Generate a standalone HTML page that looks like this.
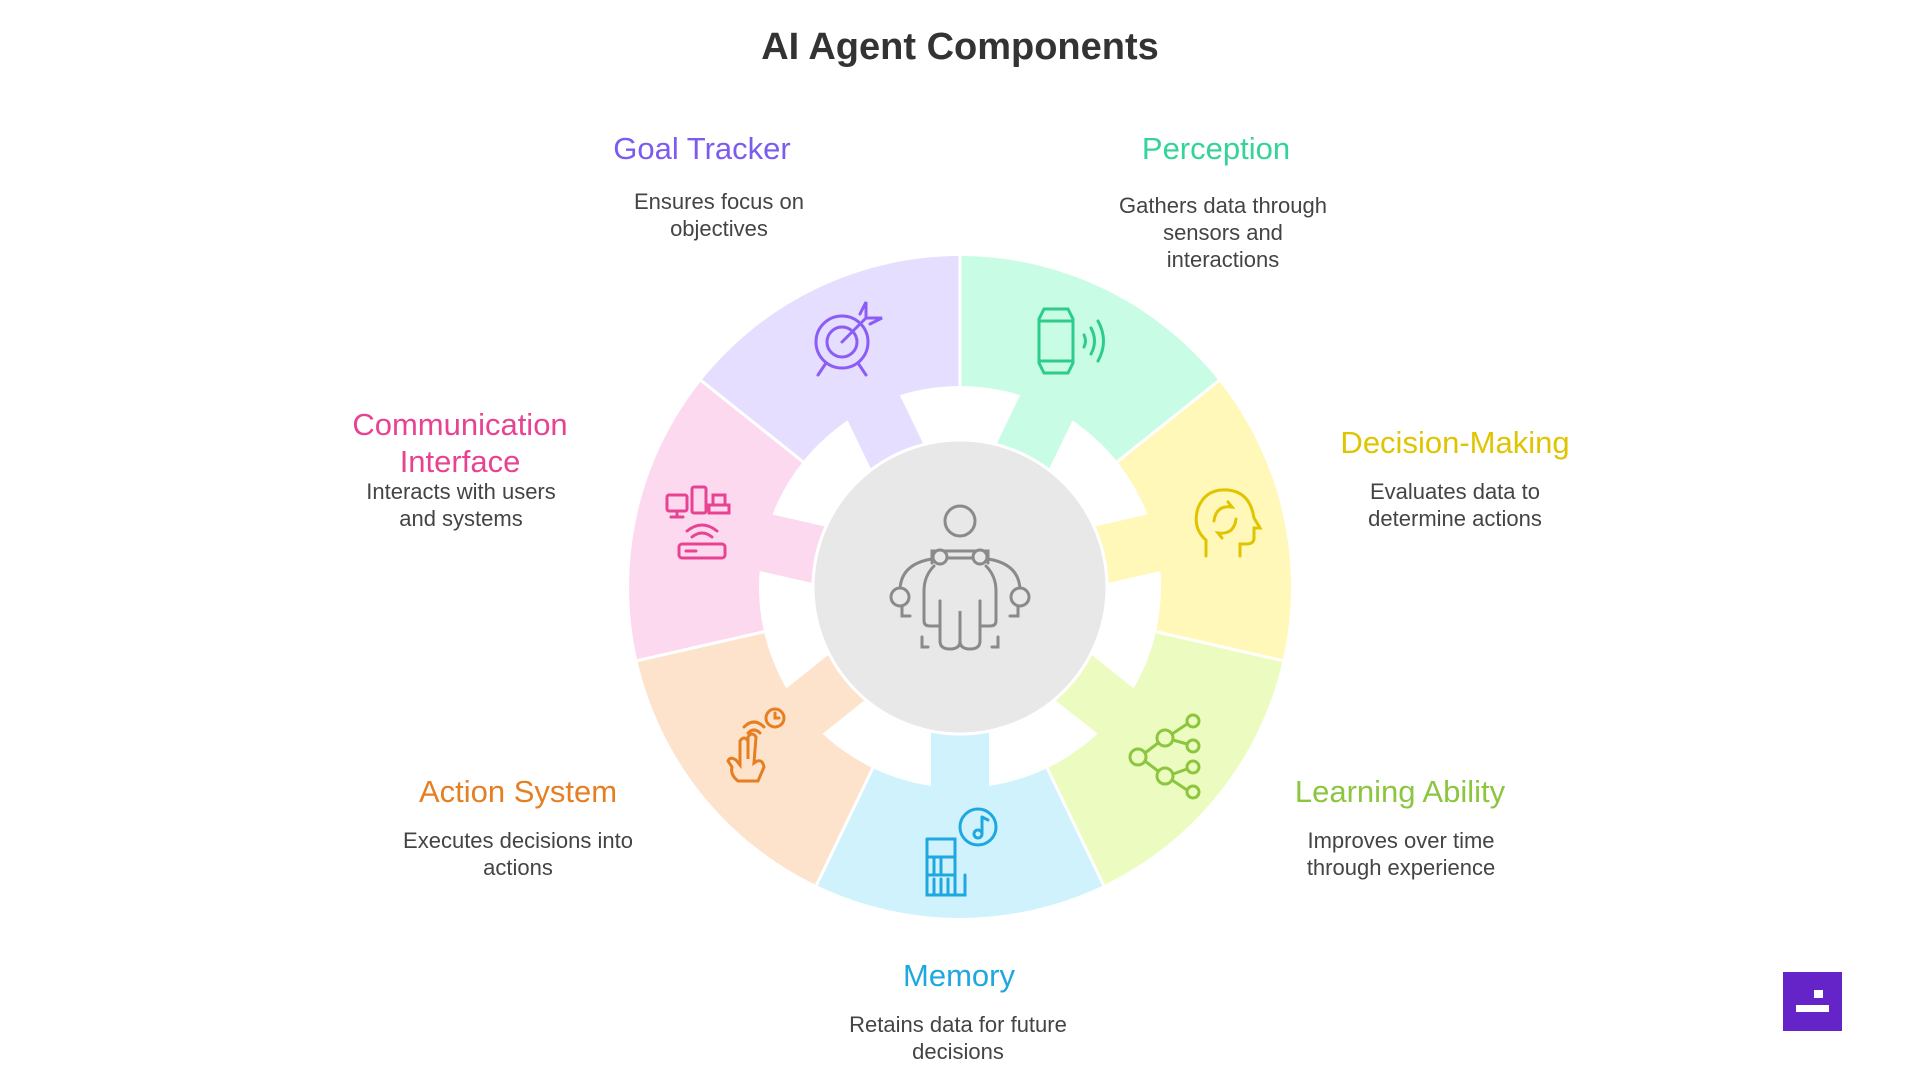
<!DOCTYPE html>
<html><head><meta charset="utf-8"><style>
html,body{margin:0;padding:0;background:#fff;}
body{width:1920px;height:1080px;position:relative;overflow:hidden;font-family:"Liberation Sans",sans-serif;}
.t{position:absolute;transform:translateX(-50%);text-align:center;white-space:nowrap;}
.h{font-size:31px;line-height:37px;}
.d{font-size:22px;line-height:27px;color:#444;}
</style></head><body>
<svg width="1920" height="1080" style="position:absolute;left:0;top:0">
<defs>
<g id="seg">
<path d="M816.4,297.8 A331,331 0 0 1 1103.6,297.8 L1047.2,414.9 A201,201 0 0 0 872.8,414.9 Z"/>
<rect x="931" y="380" width="58" height="80"/>
</g>
<line id="sep" x1="960" y1="395" x2="960" y2="258" stroke="#fff" stroke-width="3"/>
</defs>
<g transform="translate(0,-9)">
<use href="#seg" fill="#c8fce5" transform="rotate(25.714 960 596)"/>
<use href="#seg" fill="#fff8b8" transform="rotate(77.143 960 596)"/>
<use href="#seg" fill="#ecfcc0" transform="rotate(128.571 960 596)"/>
<use href="#seg" fill="#d0f2fc" transform="rotate(180 960 596)"/>
<use href="#seg" fill="#fde3cc" transform="rotate(231.429 960 596)"/>
<use href="#seg" fill="#fdd9ef" transform="rotate(282.857 960 596)"/>
<use href="#seg" fill="#e5deff" transform="rotate(334.286 960 596)"/>
<use href="#sep"/>
<use href="#sep" transform="rotate(51.429 960 596)"/>
<use href="#sep" transform="rotate(102.857 960 596)"/>
<use href="#sep" transform="rotate(154.286 960 596)"/>
<use href="#sep" transform="rotate(205.714 960 596)"/>
<use href="#sep" transform="rotate(257.143 960 596)"/>
<use href="#sep" transform="rotate(308.571 960 596)"/>
<circle cx="960" cy="596" r="147" fill="#e8e8e8" stroke="#fff" stroke-width="3"/>
<!-- center person -->
<g fill="none" stroke="#8a8a8a" stroke-width="3" stroke-linecap="round">
<circle cx="960" cy="530" r="15"/>
<path d="M932,572 v-12 h56 v12 M900,600 q0,-30 40,-33 h40 q40,3 40,33"/>
<circle cx="940" cy="566" r="7" fill="#e8e8e8"/><circle cx="980" cy="566" r="7" fill="#e8e8e8"/>
<circle cx="900" cy="606" r="9" fill="#e8e8e8"/><circle cx="1020" cy="606" r="9" fill="#e8e8e8"/>
<path d="M934,575 q-10,10 -10,25 v30 q0,5 6,5 h10 v-25 M986,575 q10,10 10,25 v30 q0,5 -6,5 h-10 v-25"/>
<path d="M940,610 v40 q0,8 10,8 q10,0 10,-8 v-30 v30 q0,8 10,8 q10,0 10,-8 v-40"/>
<path d="M922,646 v10 h6 M998,646 v10 h-6 M902,615 v10 h8 M1018,615 v10 h-8"/>
</g>
<!-- goal -->
<g fill="none" stroke="#8b5cf6" stroke-width="3" stroke-linecap="round">
<circle cx="842" cy="351" r="26"/><circle cx="842" cy="351" r="15"/>
<path d="M842,351 L866,327 M860,323 l6,-12 v16 h16 l-12,6"/>
<path d="M826,372 l-8,12 M858,372 l8,12"/>
</g>
<!-- perception -->
<g fill="none" stroke="#2ecc8a" stroke-width="3" stroke-linecap="round">
<path d="M1044,318 h24 l5,10 v44 l-5,10 h-24 l-5,-10 v-44 z M1039,330 h34 M1039,370 h34"/>
<path d="M1084,344 q3,6 0,12 M1091,337 q7,13 0,26 M1098,330 q11,20 0,40"/>
</g>
<!-- decision -->
<g fill="none" stroke="#e0c400" stroke-width="3" stroke-linecap="round">
<path d="M1206,565 v-16 q-14,-12 -8,-32 q8,-20 30,-18 q22,2 26,28 l6,10 h-6 v10 q0,6 -8,6 h-6 v12"/>
<path d="M1214,530 q2,-16 18,-14 l-4,-5 M1236,528 q-2,16 -18,14 l4,5"/>
</g>
<!-- learning -->
<g fill="none" stroke="#8cc63f" stroke-width="3" stroke-linecap="round">
<circle cx="1138" cy="766" r="8"/><circle cx="1165" cy="747" r="8"/><circle cx="1165" cy="785" r="8"/>
<circle cx="1193" cy="730" r="6"/><circle cx="1193" cy="755" r="6"/><circle cx="1193" cy="776" r="6"/><circle cx="1193" cy="801" r="6"/>
<path d="M1145,762 l13,-10 M1145,770 l13,10 M1172,743 l15,-10 M1173,749 l14,4 M1173,783 l14,-5 M1172,789 l15,10"/>
</g>
<!-- memory -->
<g fill="none" stroke="#1fa8e0" stroke-width="3" stroke-linecap="round">
<path d="M927,848 h28 v56 h10 v-20 M927,848 v56 h28 M927,866 h28 M927,884 h28"/>
<path d="M934,866 v18 M941,866 v18 M934,888 v16 M941,888 v16 M948,888 v16"/>
<circle cx="978" cy="836" r="18"/><path d="M982,826 v16 M982,826 l6,3"/><circle cx="978" cy="843" r="4"/>
</g>
<!-- action -->
<g fill="none" stroke="#e67e22" stroke-width="3" stroke-linecap="round">
<path d="M738,790 q-8,-6 -6,-14 l-4,-6 q2,-5 8,-1 l4,5 v-24 q4,-6 8,0 v18 v-22 q4,-6 8,0 l-2,26 q8,-6 10,4 l-6,14 z"/>
<path d="M748,742 q6,-6 12,0 M744,736 q10,-10 20,0"/>
<circle cx="775" cy="727" r="9"/><path d="M775,722 v5 h4"/>
</g>
<!-- comm -->
<g fill="none" stroke="#e84393" stroke-width="3" stroke-linecap="round">
<rect x="667" y="504" width="20" height="16" rx="2"/><path d="M671,526 h12 M677,520 v6"/>
<rect x="692" y="496" width="14" height="26" rx="2"/>
<path d="M713,514 v-10 h12 v10 M709,522 v-8 h20 v8 z"/>
<rect x="679" y="553" width="46" height="14" rx="3"/><path d="M686,560 h10"/>
<path d="M692,546 q10,-8 20,0 M687,540 q15,-12 30,0"/>
</g>
</g>
<!-- logo -->
<rect x="1783" y="972" width="59" height="59" fill="#6424c8"/>
<rect x="1814" y="990" width="9" height="8" fill="#fff"/>
<rect x="1796" y="1005" width="33" height="7" fill="#fff"/>
</svg>
<div class="t" style="left:960px;top:24px;font-size:38px;line-height:46px;font-weight:bold;color:#333;">AI Agent Components</div>
<div class="t h" style="left:702px;top:130px;color:#7c5cf0">Goal Tracker</div>
<div class="t d" style="left:719px;top:188px">Ensures focus on<br>objectives</div>
<div class="t h" style="left:1216px;top:130px;color:#34d399">Perception</div>
<div class="t d" style="left:1223px;top:192px">Gathers data through<br>sensors and<br>interactions</div>
<div class="t h" style="left:1455px;top:424px;color:#e0c400">Decision-Making</div>
<div class="t d" style="left:1455px;top:478px">Evaluates data to<br>determine actions</div>
<div class="t h" style="left:460px;top:406px;color:#e84393">Communication<br>Interface</div>
<div class="t d" style="left:461px;top:478px">Interacts with users<br>and systems</div>
<div class="t h" style="left:518px;top:773px;color:#e67e22">Action System</div>
<div class="t d" style="left:518px;top:827px">Executes decisions into<br>actions</div>
<div class="t h" style="left:1400px;top:773px;color:#8cc63f">Learning Ability</div>
<div class="t d" style="left:1401px;top:827px">Improves over time<br>through experience</div>
<div class="t h" style="left:959px;top:957px;color:#1fa8e0">Memory</div>
<div class="t d" style="left:958px;top:1011px">Retains data for future<br>decisions</div>
</body></html>
